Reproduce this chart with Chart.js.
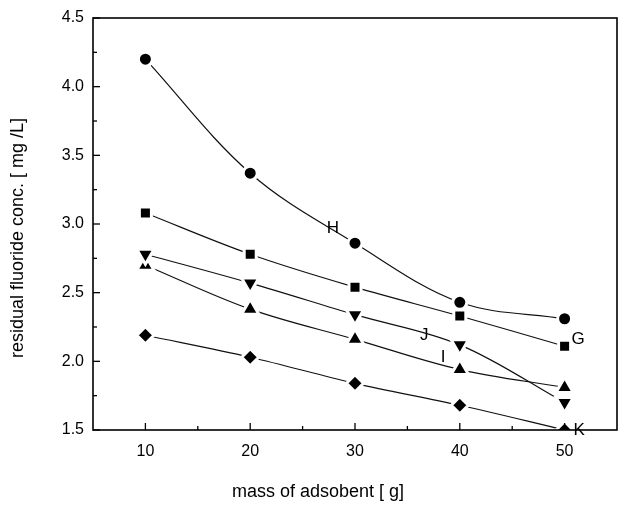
<!DOCTYPE html>
<html>
<head>
<meta charset="utf-8">
<script src="https://cdn.jsdelivr.net/npm/chart.js@4.4.1/dist/chart.umd.min.js"></script>
<style>
  html, body { margin: 0; padding: 0; background: #fff; }
  #wrap { width: 624px; height: 515px; }
</style>
</head>
<body>
<div id="wrap"><canvas id="chart" width="624" height="515"></canvas></div>
<script>
// adsorbent mass [g]
const mass = [10, 20, 30, 40, 50];

// residual fluoride concentration [mg/L], one array per curve
const seriesG = [3.08, 2.78, 2.54, 2.33, 2.11];
const seriesH = [4.20, 3.37, 2.86, 2.43, 2.31];
const seriesI = [2.70, 2.38, 2.16, 1.94, 1.81];
const seriesJ = [2.78, 2.57, 2.34, 2.12, 1.70];
const seriesK = [2.19, 2.03, 1.84, 1.68, 1.50];

const xTicks = [10, 20, 30, 40, 50];
const yTicks = [1.5, 2.0, 2.5, 3.0, 3.5, 4.0, 4.5];

// curve letters and where they sit (data coords)
const letters = ['H', 'G', 'J', 'I', 'K'];
const letterX = [27.9, 51.3, 36.6, 38.4, 51.4];
const letterY = [2.97, 2.16, 2.19, 2.03, 1.50];

const makeSet = (label, data, style, rot, r) => ({
  label: label,
  data: mass.map((m, i) => ({ x: m, y: data[i] })),
  borderColor: '#111',
  borderWidth: 1.2,
  tension: 0.35,
  pointStyle: style,
  rotation: rot,
  pointRadius: r,
  pointHoverRadius: r,
  pointBackgroundColor: '#000',
  pointBorderColor: '#fff',
  pointBorderWidth: 3,
});

// frame, inward ticks, curve letters and axis titles
const decor = {
  id: 'decor',
  afterDraw(chart) {
    const { ctx, chartArea: a, scales: { x, y } } = chart;
    ctx.save();
    ctx.strokeStyle = '#000';
    ctx.lineWidth = 1.6;
    ctx.strokeRect(a.left, a.top, a.right - a.left, a.bottom - a.top);

    ctx.lineWidth = 1.3;
    for (let v = 10; v <= 50; v += 5) {
      const px = x.getPixelForValue(v);
      const len = v % 10 === 0 ? 7 : 4;
      ctx.beginPath(); ctx.moveTo(px, a.bottom); ctx.lineTo(px, a.bottom - len); ctx.stroke();
    }
    for (let v = 1.5; v <= 4.5001; v += 0.25) {
      const py = y.getPixelForValue(v);
      const len = Math.abs(v * 2 - Math.round(v * 2)) < 0.01 ? 7 : 4;
      ctx.beginPath(); ctx.moveTo(a.left, py); ctx.lineTo(a.left + len, py); ctx.stroke();
    }

    ctx.fillStyle = '#000';
    ctx.font = '17px "Liberation Sans", Arial, sans-serif';
    ctx.textAlign = 'center';
    ctx.textBaseline = 'middle';
    letters.forEach((t, i) => {
      ctx.fillText(t, x.getPixelForValue(letterX[i]), y.getPixelForValue(letterY[i]));
    });

    ctx.font = '18px "Liberation Sans", Arial, sans-serif';
    ctx.fillText('mass of adsobent [ g]', 318, 492);
    ctx.translate(18, 238);
    ctx.rotate(-Math.PI / 2);
    ctx.fillText('residual fluoride conc. [ mg /L]', 0, 0);
    ctx.restore();
  }
};

new Chart(document.getElementById('chart').getContext('2d'), {
  type: 'line',
  data: {
    datasets: [
      makeSet('H', seriesH, 'circle', 0, 7),
      makeSet('G', seriesG, 'rect', 0, 8.5),
      makeSet('J', seriesJ, 'triangle', 180, 10),
      makeSet('I', seriesI, 'triangle', 0, 10),
      makeSet('K', seriesK, 'rectRot', 0, 8.5),
    ],
  },
  options: {
    responsive: false,
    animation: false,
    devicePixelRatio: 1,
    layout: { autoPadding: false, padding: { top: 18, right: 7, left: 0, bottom: 0 } },
    plugins: { legend: { display: false }, tooltip: { enabled: false } },
    scales: {
      x: {
        type: 'linear',
        min: 5,
        max: 55,
        afterBuildTicks: (s) => { s.ticks = xTicks.map(v => ({ value: v })); },
        afterFit: (s) => { s.height = 85; s.paddingLeft = 0; s.paddingRight = 0; },
        grid: { display: false, drawTicks: false },
        border: { display: false },
        ticks: {
          padding: 12,
          color: '#000',
          font: { family: '"Liberation Sans", Arial, sans-serif', size: 16 },
        },
      },
      y: {
        min: 1.5,
        max: 4.5,
        afterBuildTicks: (s) => { s.ticks = yTicks.map(v => ({ value: v })); },
        afterFit: (s) => { s.width = 93; s.paddingTop = 0; s.paddingBottom = 0; },
        grid: { display: false, drawTicks: false },
        border: { display: false },
        ticks: {
          padding: 9,
          color: '#000',
          font: { family: '"Liberation Sans", Arial, sans-serif', size: 16 },
          callback: (v) => Number(v).toFixed(1),
        },
      },
    },
  },
  plugins: [decor],
});
</script>
</body>
</html>
